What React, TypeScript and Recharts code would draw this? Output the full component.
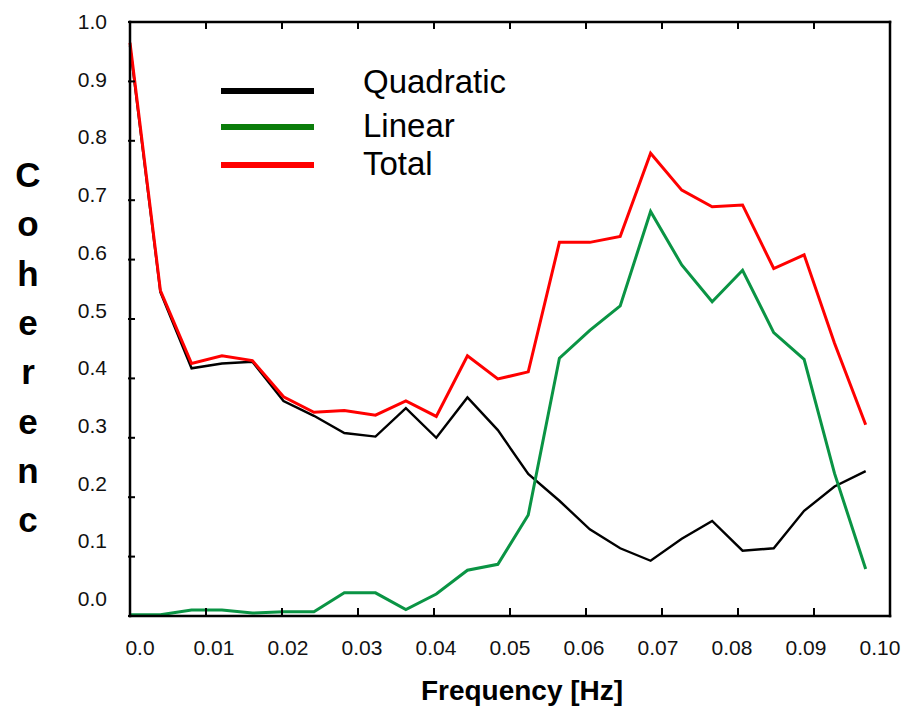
import { Legend, Line, LineChart, XAxis, YAxis } from "recharts"

// frequency bins [Hz]
const frequency = [0, 0.004, 0.0081, 0.0121, 0.0161, 0.0202, 0.0242, 0.0282, 0.0323, 0.0363, 0.0403, 0.0444, 0.0484,
    0.0524, 0.0565, 0.0605, 0.0645, 0.0685, 0.0726, 0.0766, 0.0806, 0.0847, 0.0887, 0.0927, 0.0968]

const quadratic = [0.96, 0.545, 0.417, 0.425, 0.428, 0.362, 0.337, 0.308, 0.302, 0.35, 0.3, 0.368, 0.313,
    0.239, 0.194, 0.146, 0.114, 0.093, 0.13, 0.16, 0.11, 0.114, 0.177, 0.218, 0.244]

const linear = [0.002, 0.002, 0.01, 0.01, 0.005, 0.007, 0.007, 0.039, 0.039, 0.011, 0.037, 0.077, 0.087,
    0.17, 0.434, 0.481, 0.522, 0.681, 0.591, 0.529, 0.582, 0.477, 0.432, 0.24, 0.079]

const total = [0.965, 0.548, 0.425, 0.438, 0.43, 0.369, 0.343, 0.346, 0.338, 0.362, 0.336, 0.438, 0.399,
    0.411, 0.629, 0.629, 0.639, 0.779, 0.717, 0.689, 0.692, 0.585, 0.608, 0.459, 0.322]

const xTicks = [0, 0.01, 0.02, 0.03, 0.04, 0.05, 0.06, 0.07, 0.08, 0.09, 0.1]
const xTickLabels = ["0.0", "0.01", "0.02", "0.03", "0.04", "0.05", "0.06", "0.07", "0.08", "0.09", "0.10"]
const yTicks = [0, 0.1, 0.2, 0.3, 0.4, 0.5, 0.6, 0.7, 0.8, 0.9, 1]
const yTickLabels = ["0.0", "0.1", "0.2", "0.3", "0.4", "0.5", "0.6", "0.7", "0.8", "0.9", "1.0"]

const seriesNames = ["Quadratic", "Linear", "Total"]
const yTitle = "Coherenc"
const xTitle = "Frequency [Hz]"

const FONT = "'Liberation Sans', Arial, sans-serif"
const axisStyle = {stroke: "#000", strokeWidth: 2.5, strokeLinecap: "square" as const}

// tick marks point into the plot, so they're drawn as paths in the tick components
function XTick(props: any) {
    const {x, y, index} = props
    // labels in the original drift a little left of their ticks
    const dx = 10 - 2 * index
    return (
        <g>
            <path d={`M${x},${y}V${y - 8}`} stroke="#000" strokeWidth={2} fill="none"/>
            <text x={x + dx} y={y + 39} textAnchor="middle" fontFamily={FONT} fontSize={21} fill="#111">
                {xTickLabels[index]}
            </text>
        </g>
    )
}

function YTick(props: any) {
    const {x, y, index} = props
    const v = yTicks[index]
    const dy = -17 * (1 - v)
    return (
        <g>
            <path d={`M${x - 2},${y}H${x + 5}`} stroke="#000" strokeWidth={2} fill="none"/>
            <text x={x - 23} y={y + dy + 7} textAnchor="end" fontFamily={FONT} fontSize={21} fill="#111">
                {yTickLabels[index]}
            </text>
        </g>
    )
}

function TopTick(props: any) {
    const {x, y} = props
    return <path d={`M${x},${y - 1}V${y + 7}`} stroke="#000" strokeWidth={2} fill="none"/>
}

function RightTick(props: any) {
    const {x, y} = props
    return <path d={`M${x},${y}H${x - 10}`} stroke="#000" strokeWidth={2} fill="none"/>
}

function YTitle() {
    return (
        <g>
            {yTitle.split("").map((ch, i) => (
                <text key={i} x={28} y={187 + i * 49.3} textAnchor="middle" fontFamily={FONT}
                      fontSize={35} fontWeight="bold" fill="#000">{ch}</text>
            ))}
        </g>
    )
}

function XTitle() {
    return (
        <text x={522} y={700} textAnchor="middle" fontFamily={FONT} fontSize={28} fontWeight="bold" fill="#000">
            {xTitle}
        </text>
    )
}

const legendColors = ["#000000", "#0b7d0b", "#ff0000"]

function LegendBox() {
    return (
        <svg width={320} height={130} style={{display: "block"}}>
            {seriesNames.map((name, i) => {
                const ly = [31, 67, 105][i]
                const ty = [33, 77, 115][i]
                return (
                    <g key={name}>
                        <line x1={6} x2={99} y1={ly} y2={ly} stroke={legendColors[i]} strokeWidth={6}/>
                        <text x={148} y={ty} fontFamily={FONT} fontSize={33} fill="#000">{name}</text>
                    </g>
                )
            })}
        </svg>
    )
}

export default function App() {
    const data = frequency.map((f, i) => ({
        f,
        quadratic: quadratic[i],
        linear: linear[i],
        total: total[i],
    }))

    return (
        <div style={{position: "absolute", left: 0, top: 0, width: 909, height: 711, background: "#fff"}}>
            <LineChart width={909} height={711} data={data} margin={{top: 21, right: 18, bottom: 0, left: 0}}>
                <XAxis
                    dataKey="f"
                    type="number"
                    domain={[0, 0.1]}
                    ticks={xTicks}
                    interval={0}
                    height={95}
                    axisLine={axisStyle}
                    tickLine={false}
                    tickSize={0}
                    tickMargin={0}
                    tick={XTick}
                    label={<XTitle/>}
                />
                {/* frame: top and right axes need a non-zero size or they aren't drawn */}
                <XAxis
                    xAxisId="top"
                    orientation="top"
                    dataKey="f"
                    type="number"
                    domain={[0, 0.1]}
                    ticks={xTicks}
                    interval={0}
                    height={1}
                    axisLine={axisStyle}
                    tickLine={false}
                    tickSize={0}
                    tickMargin={0}
                    tick={TopTick}
                />
                <YAxis
                    type="number"
                    domain={[0, 1]}
                    ticks={yTicks}
                    interval={0}
                    width={130}
                    axisLine={axisStyle}
                    tickLine={false}
                    tickSize={0}
                    tickMargin={0}
                    tick={YTick}
                    label={<YTitle/>}
                />
                <YAxis
                    yAxisId="right"
                    orientation="right"
                    type="number"
                    domain={[0, 1]}
                    ticks={yTicks}
                    interval={0}
                    width={1}
                    axisLine={axisStyle}
                    tickLine={false}
                    tickSize={0}
                    tickMargin={0}
                    tick={RightTick}
                />
                <Legend
                    layout="vertical"
                    align="center"
                    verticalAlign="middle"
                    wrapperStyle={{top: 60, left: 215, width: 320, height: 130}}
                    content={() => <LegendBox/>}
                />
                <Line type="linear" dataKey="quadratic" name="Quadratic" stroke="#000000" strokeWidth={2.4}
                      dot={false} isAnimationActive={false}/>
                <Line type="linear" dataKey="linear" name="Linear" stroke="#0a9444" strokeWidth={3}
                      dot={false} isAnimationActive={false}/>
                <Line type="linear" dataKey="total" name="Total" stroke="#ff0000" strokeWidth={3}
                      dot={false} isAnimationActive={false}/>
            </LineChart>
        </div>
    )
}
